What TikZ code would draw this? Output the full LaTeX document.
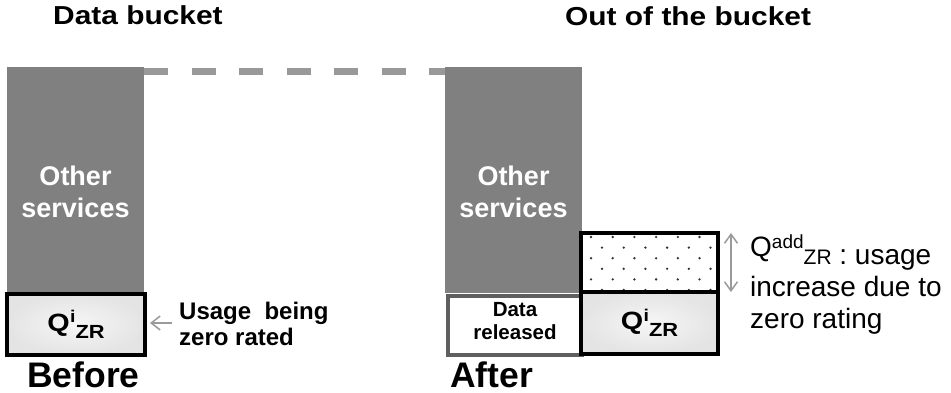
\documentclass[tikz,border=0pt]{standalone}
\usepackage{fontspec}
\setmainfont{Liberation Sans}
\newfontfamily\widefont{Liberation Sans}[FakeStretch=1.15]
\usetikzlibrary{arrows.meta,calc}
\definecolor{bargray}{HTML}{808080}
\definecolor{dashgray}{HTML}{999999}
\definecolor{arrgray}{HTML}{9A9A9A}
\definecolor{relgray}{HTML}{5F5F5F}
\definecolor{qin}{HTML}{F6F6F6}
\definecolor{qout}{HTML}{E4E4E4}
\newcommand{\fs}[2]{\fontsize{#1}{#2}\selectfont}
\newcommand{\qzr}{\widefont\bfseries\fs{25}{25}Q\kern0.5pt\raisebox{8.5pt}{\fs{17}{17}i}\raisebox{-7pt}{\fs{19}{19}ZR}}
\begin{document}
\begin{tikzpicture}[x=1pt,y=-1pt,
  bar/.style={fill=bargray, draw=none, minimum width=137pt, minimum height=226pt, inner sep=0pt, outer sep=0pt},
  titlelbl/.style={inner sep=0pt, font=\widefont\bfseries\fs{26}{30}},
  otherlbl/.style={inner sep=0pt, text=white, align=center, font=\bfseries\fs{27}{32}},
  qbox/.style={draw=black, line width=4pt, inner color=qin, outer color=qout, inner sep=0pt, outer sep=0pt},
  addbox/.style={draw=black, line width=4pt, fill=white, inner sep=0pt, outer sep=0pt, minimum width=137pt, minimum height=59pt},
  relbox/.style={draw=relgray, line width=4pt, fill=white, inner sep=0pt, outer sep=0pt, minimum width=134pt, minimum height=59pt, align=center, font=\bfseries\fs{20.5}{23}, text depth=8.7pt},
  biglbl/.style={inner sep=0pt, font=\bfseries\fs{35.5}{40}},
  usagelbl/.style={inner sep=0pt, align=left, font=\bfseries\fs{24}{26}},
  addlbl/.style={inner sep=0pt, align=left, font=\fs{28}{32}},
  dashline/.style={draw=dashgray, line width=7pt, dash pattern=on 24pt off 23.5pt},
  garrow/.style={draw=arrgray, line width=1.5pt, arrows={-Straight Barb[length=9pt,width=14pt]}},
  gdarrow/.style={draw=arrgray, line width=1.5pt, arrows={Straight Barb[length=9pt,width=13pt]-Straight Barb[length=9pt,width=13pt]}},
  dotfill/.style={fill=black!80}
]
\useasboundingbox (0,0) rectangle (951,393);

% titles
\node[titlelbl, anchor=base west] (t1) at (53,25) {Data bucket};
\node[titlelbl, anchor=base west] (t2) at (565,26) {Out of the bucket};

% bars
\node[bar] (barL) at (75.5,180) {};
\node[bar] (barR) at (513.5,180) {};
\draw[dashline] ([yshift=-4.5pt]barL.north east) -- ([yshift=-4.5pt]barR.north west);

\node[otherlbl] (othL) at (75.5,191.5) {Other\\services};
\node[otherlbl] (othR) at (513.5,191.5) {Other\\services};

% before
\node[qbox, minimum width=138pt, minimum height=61pt] (qL) at (76,324.5) {\qzr};
\node[usagelbl, anchor=west] (usage) at (179,324) {Usage\ \ being\\zero rated};
\draw[garrow] ([xshift=27pt,yshift=1.5pt]qL.east) -- ([xshift=5pt,yshift=1.5pt]qL.east);
\node[biglbl, anchor=base west] (before) at (27,387) {Before};

% after
\node[relbox] (rel) at (515,325.5) {Data\\released};
\node[addbox] (qadd) at (649.5,262.5) {};
\begin{scope}
  \clip ($(qadd.north west)+(2,2)$) rectangle ($(qadd.south east)+(-2,-2)$);
  \foreach \j in {0,...,5} {
    \pgfmathsetmacro\off{mod(\j,2)==0 ? 591 : 602}
    \foreach \i in {0,...,5} {
      \fill[dotfill] (\off+21.7*\i, 237+10.6*\j) circle (1.3pt);
    }
  }
\end{scope}
\node[qbox, minimum width=137pt, minimum height=62pt] (qR) at (649.5,323) {\qzr};
\draw[gdarrow] ([xshift=13pt]qadd.north east) -- ([xshift=13pt]qadd.south east);
\node[addlbl, anchor=west] (addtxt) at (750,285) {\raisebox{8pt}{Q}\raisebox{16pt}{\fs{19}{19}add}\fs{21}{21}ZR\fs{28}{32} : usage\\increase due to\\zero rating};
\node[biglbl, anchor=base west] (after) at (450,387) {After};
\end{tikzpicture}
\end{document}
